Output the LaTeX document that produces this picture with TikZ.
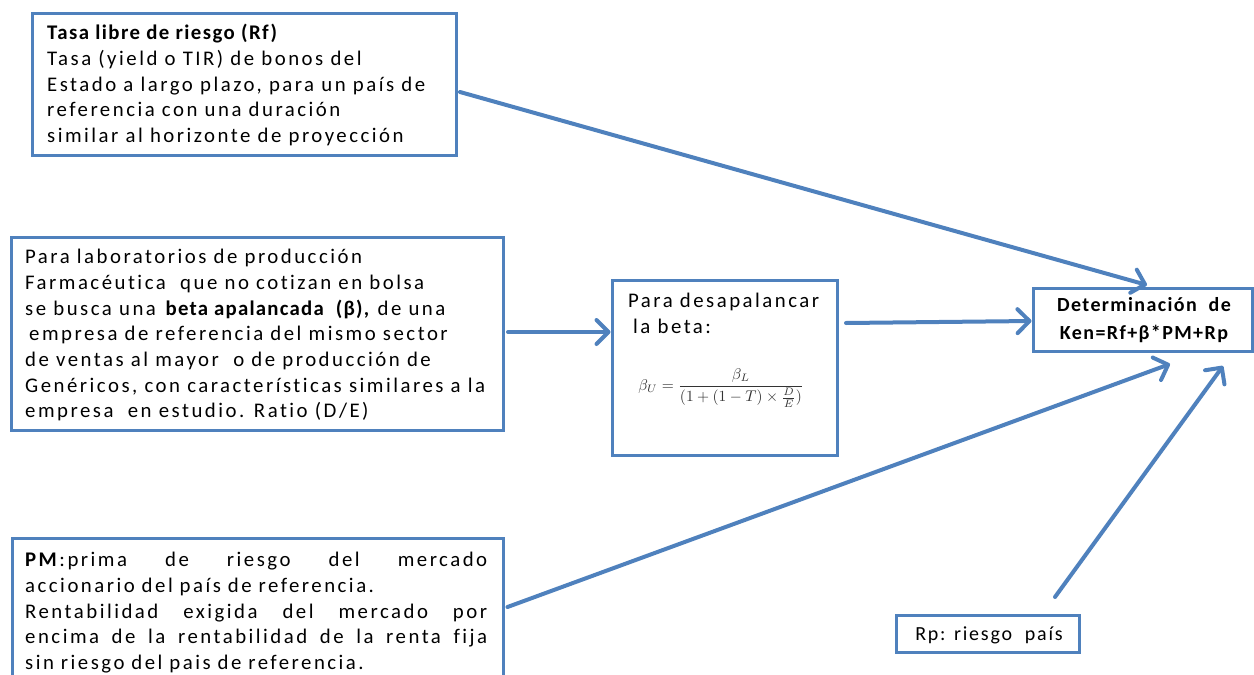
\documentclass[tikz,border=0pt]{standalone}
\usepackage{fontspec}
\setmainfont{Carlito}[LetterSpace=12,Ligatures={NoCommon}]
\usetikzlibrary{arrows.meta,calc}
\definecolor{ofblue}{RGB}{79,129,189}
\begin{document}
\begin{tikzpicture}[x=1pt,y=-1pt,
  box/.style={draw=ofblue, line width=3pt, rectangle, inner sep=0pt, fill=white},
  txt/.style={inner sep=0pt, anchor=north west, align=left, font=\fontsize{20.8}{25.7}\selectfont},
  conn/.style={draw=ofblue, line width=4pt, line cap=round, line join=round,
    -{Straight Barb[length=12pt,width=24pt,line cap=round,line join=round]}}
]
\useasboundingbox (0,0) rectangle (1254,675);
\clip (0,0) rectangle (1254,675);

% boxes
\node[box, minimum width=424pt, minimum height=142pt] (tasa) at (244,84) {};
\node[box, minimum width=492pt, minimum height=193pt] (lab) at (257,333.5) {};
\node[box, minimum width=225pt, minimum height=175pt] (desap) at (724.5,367.5) {};
\node[box, minimum width=219pt, minimum height=63pt] (det) at (1142.5,319.5) {};
\node[box, minimum width=491pt, minimum height=162pt] (pm) at (257.5,619) {};
\node[box, minimum width=183pt, minimum height=37pt] (rp) at (987.5,633.5) {};

% texts
\node[txt] (tasat) at (47,24) {{\addfontfeatures{LetterSpace=7}\textbf{Tasa libre de riesgo (Rf)}}\\
Tasa (yield o TIR) de bonos del\\
Estado a largo plazo, para un país de\\
referencia con una duración\\
similar al horizonte de proyección};

\node[txt] (labt) at (25,249) {Para laboratorios de producción\\
Farmacéutica \ que no cotizan en bolsa\\
se busca una {\addfontfeatures{LetterSpace=6}\textbf{beta apalancada \ (β),}} de una\\
\hspace{4pt}empresa de referencia del mismo sector\\
de ventas al mayor \ o de producción de\\
Genéricos, con características similares a la\\
empresa \ en estudio. Ratio (D/E)};

\node[txt, text width=462pt] (pmt) at (25,552) {\textbf{PM}:prima\hfill de\hfill riesgo\hfill del\hfill mercado\\
accionario del país de referencia.\\
Rentabilidad\hfill exigida\hfill del\hfill mercado\hfill por\\
encima\hfill de\hfill la\hfill rentabilidad\hfill de\hfill la\hfill renta\hfill fija\\
sin riesgo del pais de referencia.};

\node[txt] (desapt) at (628,293) {Para desapalancar\\
\hspace{5pt}la beta:};

\node[inner sep=0pt, text=black!80] (form) at (721,388)
  {\scalebox{1.55}{$\beta_U=\displaystyle\frac{\beta_L}{(1+(1-T)\times\frac{D}{E})}$}};

\node[inner sep=0pt, align=center, font=\fontsize{20}{28}\selectfont\bfseries\addfontfeatures{LetterSpace=7}] (dett) at (1144,320)
  {Determinación \ de\\Ken=Rf+β*PM+Rp};

\node[inner sep=0pt, font=\fontsize{20}{25.7}\selectfont\addfontfeatures{LetterSpace=9}] (rpt) at (989,635) {Rp: riesgo \ país};

% connectors
\draw[conn] ($(tasa.east)+(2.5,8)$) -- ($(det.north)+(4.5,-1.5)$);
\draw[conn] ($(lab.east)+(3.5,-1.5)$) -- ($(desap.west)+(0,-35.5)$);
\draw[conn] ($(desap.east)+(7.5,-44.5)$) -- ($(det.west)+(0,1.5)$);
\draw[conn] ($(pm.east)+(3,-12)$) -- ($(det.south)+(27.5,11.5)$);
\draw[conn] ($(rp.north)+(67.5,-16.5)$) -- ($(det.south)+(80.5,13.5)$);
\end{tikzpicture}
\end{document}
